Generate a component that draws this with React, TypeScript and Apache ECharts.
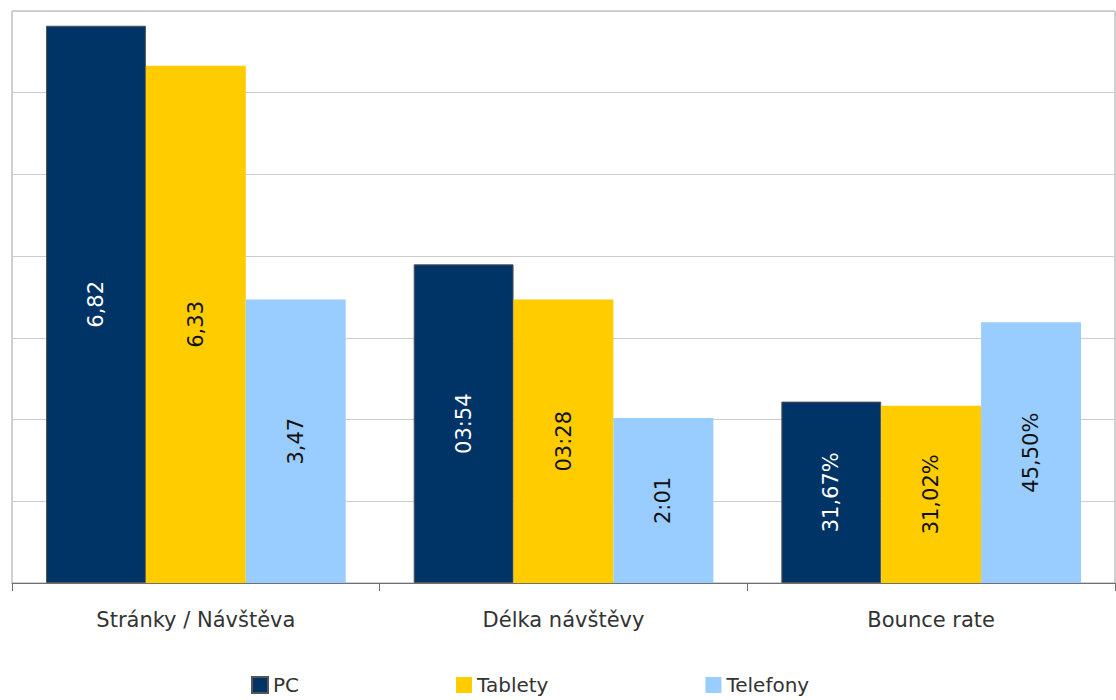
import React, { useEffect, useRef } from "react";
import * as echarts from "echarts";

const categories = ["Stránky / Návštěva", "Délka návštěvy", "Bounce rate"];
const seriesNames = ["PC", "Tablety", "Telefony"];
const pcValues = [6.82, 3.9, 2.22];
const tabletValues = [6.33, 3.47, 2.17];
const phoneValues = [3.47, 2.02, 3.19];
const pcLabels = ["6,82", "03:54", "31,67%"];
const tabletLabels = ["6,33", "03:28", "31,02%"];
const phoneLabels = ["3,47", "2:01", "45,50%"];
const colors = ["#003366", "#FFCC00", "#99CCFF"];
const labelColors = ["#ffffff", "#111111", "#111111"];

const FONT = "DejaVu Sans";

export default function App() {
  const ref = useRef<HTMLDivElement>(null);
  useEffect(() => {
    document.body.style.margin = "0";
    const chart = echarts.init(ref.current!, undefined, { renderer: "svg" });
    const values = [pcValues, tabletValues, phoneValues];
    const labels = [pcLabels, tabletLabels, phoneLabels];
    chart.setOption({
      animation: false,
      backgroundColor: "#ffffff",
      textStyle: { fontFamily: FONT },
      grid: {
        left: 12,
        right: 1,
        top: 11,
        bottom: 117,
        show: true,
        borderColor: "#a0a0a0",
        borderWidth: 1,
        backgroundColor: "transparent",
      },
      legend: {
        left: 251,
        top: 673,
        itemWidth: 16,
        itemHeight: 16,
        itemGap: 157,
        padding: 0,
        icon: "rect",
        textStyle: { fontFamily: FONT, fontSize: 20, color: "#333333", lineHeight: 24 },
        data: seriesNames,
      },
      xAxis: {
        type: "category",
        data: categories,
        axisLine: { show: true, lineStyle: { color: "#707070", width: 1 } },
        axisTick: { show: true, length: 8, lineStyle: { color: "#707070" } },
        axisLabel: {
          fontFamily: FONT,
          fontSize: 21,
          color: "#333333",
          margin: 26,
        },
      },
      yAxis: {
        type: "value",
        min: 0,
        max: 7,
        interval: 1,
        axisLabel: { show: false },
        axisLine: { show: false },
        axisTick: { show: false },
        splitLine: { show: true, lineStyle: { color: "#cccccc", width: 1 } },
      },
      series: seriesNames.map((name, i) => ({
        name,
        type: "bar",
        barGap: "0%",
        barCategoryGap: "18.5%",
        itemStyle: {
          color: colors[i],
          borderColor: i === 0 ? "#555555" : colors[i],
          borderWidth: i === 0 ? 1 : 0,
        },
        label: {
          show: true,
          position: "inside",
          rotate: 90,
          fontFamily: FONT,
          fontSize: 21,
          color: labelColors[i],
          formatter: (p: any) => labels[i][p.dataIndex],
        },
        data: values[i],
      })),
    });
    return () => chart.dispose();
  }, []);
  return <div ref={ref} style={{ width: 1116, height: 700 }} />;
}
